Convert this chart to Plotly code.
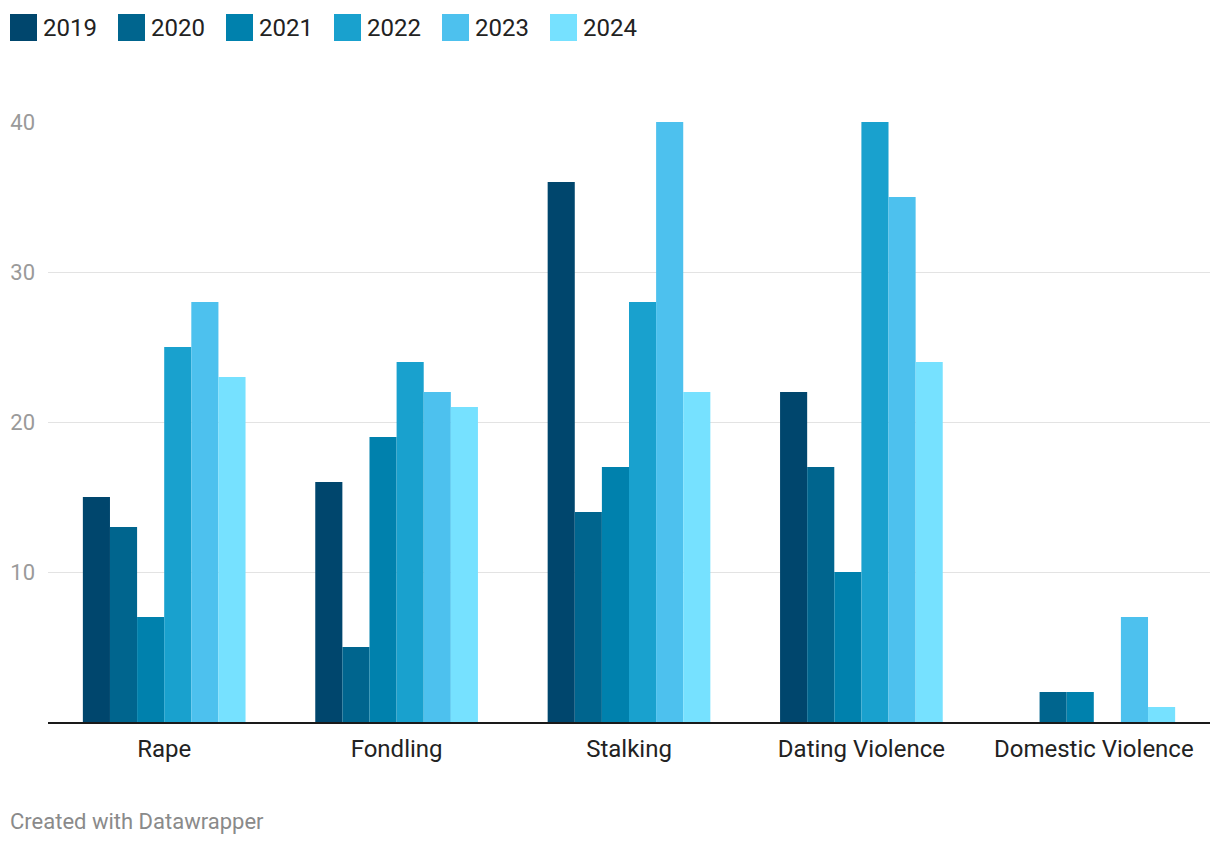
import plotly.graph_objects as go

categories = ["Rape", "Fondling", "Stalking", "Dating Violence", "Domestic Violence"]
years = ["2019", "2020", "2021", "2022", "2023", "2024"]

v2019 = [15, 16, 36, 22, None]
v2020 = [13, 5, 14, 17, 2]
v2021 = [7, 19, 17, 10, 2]
v2022 = [25, 24, 28, 40, None]
v2023 = [28, 22, 40, 35, 7]
v2024 = [23, 21, 22, 24, 1]

colors = ["#00466d", "#00658e", "#0081ad", "#19a1ce", "#4dc1ee", "#76e1ff"]
series = [v2019, v2020, v2021, v2022, v2023, v2024]

W, H = 1220, 844
OFF = 8  # page offset of the figure
# plot area in page pixels
PX0, PX1, PY0, PY1 = 48, 1210, 122, 722
L = PX0 - OFF
T = PY0 - OFF
R = W - (PX1 - OFF)
B = H - (PY1 - OFF)
pw, ph = PX1 - PX0, PY1 - PY0

def px_x(x):
    return (x - PX0) / pw

def px_y(y):
    return (PY1 - y) / ph

fig = go.Figure()
for yr, vals, col in zip(years, series, colors):
    fig.add_trace(go.Bar(x=categories, y=vals, name=yr, marker=dict(color=col, line=dict(width=0)),
                         showlegend=False))

shapes = []
annotations = []
for i, (yr, col) in enumerate(zip(years, colors)):
    x0 = 10 + i * 108
    shapes.append(dict(type="rect", xref="paper", yref="paper",
                       x0=px_x(x0), x1=px_x(x0 + 27), y0=px_y(41), y1=px_y(14),
                       fillcolor=col, line=dict(width=0)))
    annotations.append(dict(xref="paper", yref="paper", x=px_x(x0 + 31), y=px_y(28),
                            xanchor="left", yanchor="middle", text=yr, showarrow=False,
                            font=dict(family="Roboto", size=24, color="#222222")))

annotations.append(dict(xref="paper", yref="paper", x=px_x(8), y=px_y(821),
                        xanchor="left", yanchor="middle", text="Created with Datawrapper",
                        showarrow=False, font=dict(family="Roboto", size=22, color="#8a8a8a")))

fig.update_layout(
    width=W, height=H,
    margin=dict(l=L, r=R, t=T, b=B, autoexpand=False),
    paper_bgcolor="white", plot_bgcolor="white",
    barmode="group", bargap=0.3, bargroupgap=0,
    shapes=shapes, annotations=annotations,
    font=dict(family="Roboto"),
)
fig.update_xaxes(showline=True, linecolor="#1a1a1a", linewidth=2, ticks="",
                 ticklabelstandoff=4, automargin=False,
                 tickfont=dict(family="Roboto", size=24, color="#222222"), showgrid=False)
fig.update_yaxes(range=[0, 40], tickvals=[10, 20, 30, 40], showgrid=True, gridcolor="#e3e3e3",
                 gridwidth=1, zeroline=False, ticks="", ticklabelstandoff=12, automargin=False,
                 tickfont=dict(family="Roboto", size=22, color="#9a9a9a"))

fig.write_html("out.html")
